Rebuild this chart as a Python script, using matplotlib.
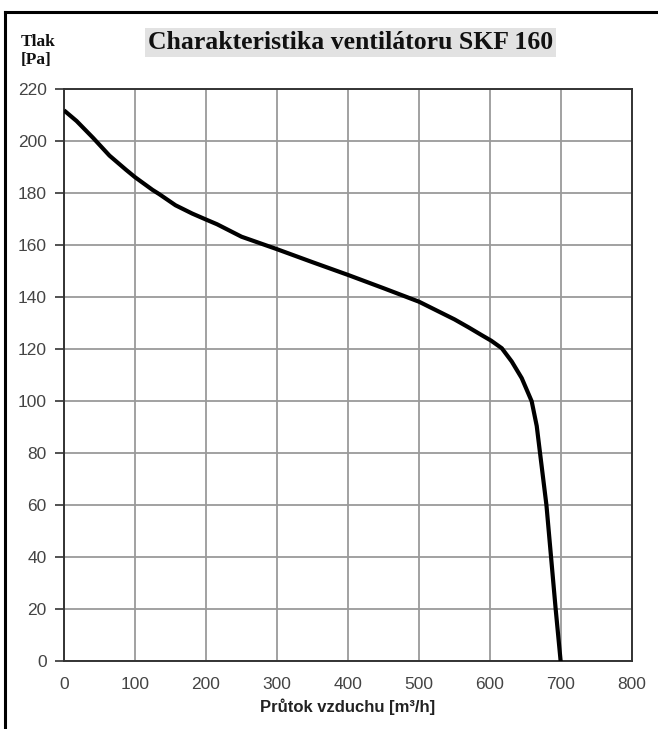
import matplotlib
matplotlib.use("Agg")
import matplotlib.pyplot as plt
from matplotlib.lines import Line2D

flow = [0, 17.7, 41, 64, 87.5, 100, 124.7, 134, 157, 180.6, 200, 215.5, 250, 300,
        350, 400, 450, 500, 550, 570, 588.5, 601.7, 616.6, 630.6, 644.7, 658.7,
        665.8, 670.5, 679.5, 686, 692.5, 699.5]
pressure = [211.9, 207.8, 201.3, 194.5, 189, 186.2, 181.3, 179.7, 175.4, 172.2,
            169.9, 168.1, 163.3, 158.5, 153.5, 148.6, 143.5, 138.3, 131.5, 128.4,
            125.4, 123.3, 120.4, 115.3, 108.9, 100, 90.5, 80, 60, 40, 20, 0]

x_ticks = [0, 100, 200, 300, 400, 500, 600, 700, 800]
y_ticks = [0, 20, 40, 60, 80, 100, 120, 140, 160, 180, 200, 220]

title = "Charakteristika ventilátoru SKF 160"
ylabel = "Tlak\n[Pa]"
xlabel = "Průtok vzduchu [m³/h]"

fig = plt.figure(figsize=(6.58, 7.29), dpi=100)
ax = fig.add_axes([0.0973, 0.0929, 0.8632, 0.7846])

ax.plot(flow, pressure, color="black", lw=3.0, solid_joinstyle="round",
        solid_capstyle="butt", zorder=3)

ax.set_xlim(0, 800)
ax.set_ylim(0, 220)
ax.set_xticks(x_ticks)
ax.set_yticks(y_ticks)
ax.grid(True, color="#9a9a9a", lw=1.3)
ax.set_axisbelow(True)
for s in ax.spines.values():
    s.set_color("#333333")
    s.set_linewidth(1.4)
ax.tick_params(axis="y", length=6.5, width=1.2, color="#333333", pad=6,
               labelsize=12.5, labelcolor="#444444")
ax.tick_params(axis="x", length=0, pad=11, labelsize=12.5, labelcolor="#444444")
for lab in ax.get_xticklabels() + ax.get_yticklabels():
    lab.set_family("Liberation Sans")

ax.set_xlabel(xlabel, family="Liberation Sans", fontweight="bold", fontsize=12,
              color="#222222", labelpad=5)

fig.text(0.533, 0.9417, title, family="Liberation Serif", fontweight="bold",
         fontsize=18.5, ha="center", va="center", color="#111111",
         bbox=dict(boxstyle="square,pad=0.12", fc="#e2e2e2", ec="none"))
fig.text(0.031, 0.9305, ylabel, family="Liberation Serif", fontweight="bold",
         fontsize=12.5, ha="left", va="center", color="#111111", linespacing=1.15)

# outer frame (top and left)
fig.add_artist(Line2D([5/658, 1.0], [1 - 12/729, 1 - 12/729],
                      transform=fig.transFigure, color="black", lw=2.2))
fig.add_artist(Line2D([5/658, 5/658], [0.0, 1 - 12/729],
                      transform=fig.transFigure, color="black", lw=2.2))

fig.savefig("out.png", dpi=100)
